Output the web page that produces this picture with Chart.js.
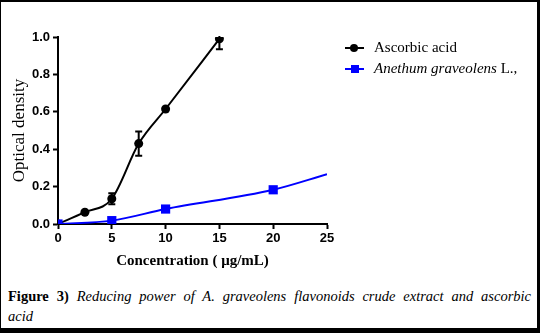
<!DOCTYPE html>
<html>
<head>
<meta charset="utf-8">
<script src="https://cdn.jsdelivr.net/npm/chart.js@4"></script>
<style>
  html, body { margin: 0; padding: 0; background: #000; }
  #page {
    position: absolute; left: 1px; top: 2px; width: 536px; height: 326px;
    background: #fff; overflow: hidden;
  }
  #wrap { position: absolute; left: -1px; top: -2px; width: 540px; height: 280px; }
  #legend { position: absolute; left: 344px; top: 35px; color: #000; }
  .row { position: relative; height: 21px; line-height: 21px; white-space: nowrap; }
  .mk { position: absolute; left: 0; top: 10px; width: 19px; height: 2px; }
  .dot { position: absolute; left: 5px; top: -3px; width: 8px; height: 8px; }
  .txt {
    position: absolute; left: 29px; top: 0;
    font-family: "Liberation Serif", "DejaVu Serif", serif; font-size: 15px;
  }
  #caption {
    position: absolute; left: 7px; top: 284px; width: 523px;
    font-family: "Liberation Serif", serif; font-size: 14.5px; line-height: 20px; color: #000;
  }
  #caption .l1 { text-align: justify; text-align-last: justify; }
  #caption i { font-style: italic; }
</style>
</head>
<body>
<div id="page">
  <div id="wrap"><canvas id="chart" width="540" height="280"></canvas></div>
  <div id="legend"></div>
  <div id="caption">
    <div class="l1"><b>Figure 3)</b> <i>Reducing power of A. graveolens flavonoids crude extract and ascorbic</i></div>
    <div><i>acid</i></div>
  </div>
</div>
<script>
// Data
var acidX = [0, 2.5, 5, 7.5, 10, 15];
var acidY = [0, 0.063, 0.135, 0.43, 0.615, 0.99];
var acidErr = [0, 0, 0.03, 0.065, 0, 0.055];

var anethumX = [0, 5, 10, 20, 25];
var anethumY = [0, 0.018, 0.08, 0.183, 0.266];

var xTicks = [0, 5, 10, 15, 20, 25];
var yTicks = [0, 0.2, 0.4, 0.6, 0.8, 1.0];

var seriesNames = ["Ascorbic acid", "<i>Anethum graveolens</i> L.,"];
var seriesColors = ["#000000", "#0000ff"];

function toPoints(xs, ys) {
  var pts = [];
  for (var i = 0; i < xs.length; i++) pts.push({x: xs[i], y: ys[i]});
  return pts;
}

// error bars for the ascorbic acid series, clipped to the plot area
var errorBars = {
  id: 'errorBars',
  afterDatasetsDraw: function(chart) {
    var ctx = chart.ctx;
    var xs = chart.scales.x, ys = chart.scales.y;
    var area = chart.chartArea;
    ctx.save();
    ctx.beginPath();
    ctx.rect(area.left, area.top - 1, area.right - area.left, area.bottom - area.top + 2);
    ctx.clip();
    ctx.strokeStyle = "#000";
    ctx.lineWidth = 2;
    for (var i = 0; i < acidX.length; i++) {
      if (!acidErr[i]) continue;
      var px = xs.getPixelForValue(acidX[i]);
      var top = ys.getPixelForValue(acidY[i] + acidErr[i]);
      var bot = ys.getPixelForValue(acidY[i] - acidErr[i]);
      ctx.beginPath();
      ctx.moveTo(px, top); ctx.lineTo(px, bot);
      ctx.moveTo(px - 3.5, top); ctx.lineTo(px + 3.5, top);
      ctx.moveTo(px - 3.5, bot); ctx.lineTo(px + 3.5, bot);
      ctx.stroke();
    }
    ctx.restore();
  }
};

var tickFont = { family: "'Liberation Sans Narrow', 'Liberation Sans', Arial", size: 13, weight: 'bold' };

var chart = new Chart(document.getElementById("chart"), {
  type: 'line',
  data: {
    datasets: [{
      label: "Ascorbic acid",
      data: toPoints(acidX, acidY),
      borderColor: seriesColors[0],
      backgroundColor: seriesColors[0],
      borderWidth: 2,
      pointStyle: 'circle',
      pointRadius: 4.5,
      pointBorderWidth: 0,
      cubicInterpolationMode: 'monotone',
      order: 2
    }, {
      label: "Anethum graveolens L.,",
      data: toPoints(anethumX, anethumY),
      borderColor: seriesColors[1],
      backgroundColor: seriesColors[1],
      borderWidth: 2,
      pointStyle: 'rect',
      pointRadius: [6.5, 6.5, 6.5, 6.5, 0],
      pointBorderWidth: 0,
      cubicInterpolationMode: 'monotone',
      order: 1
    }]
  },
  options: {
    animation: false,
    responsive: false,
    layout: { padding: { left: 0, right: 213, top: 37, bottom: 0 } },
    plugins: { legend: { display: false }, tooltip: { enabled: false } },
    scales: {
      x: {
        type: 'linear', min: 0, max: 25,
        afterBuildTicks: function(s) { s.ticks = xTicks.map(function(v) { return {value: v}; }); },
        afterFit: function(s) { s.height = 56; },
        grid: { drawOnChartArea: false, drawTicks: true, tickLength: 5, tickColor: '#000', tickWidth: 2 },
        border: { color: '#000', width: 2 },
        ticks: { color: '#000', font: tickFont, padding: 2, maxRotation: 0 },
        title: { display: true, text: "Concentration ( μg/mL)", color: '#000',
          font: { family: "'Liberation Serif', serif", size: 15, weight: 'bold' }, padding: { top: 0, bottom: 10 } }
      },
      y: {
        type: 'linear', min: 0, max: 1,
        afterBuildTicks: function(s) { s.ticks = yTicks.map(function(v) { return {value: v}; }); },
        afterFit: function(s) { s.width = 58; },
        grid: { drawOnChartArea: false, drawTicks: true, tickLength: 5, tickColor: '#000', tickWidth: 2 },
        border: { color: '#000', width: 2 },
        ticks: { color: '#000', font: tickFont, padding: 3, callback: function(v) { return v.toFixed(1); } },
        title: { display: true, text: "Optical density", color: '#000',
          font: { family: "'Liberation Serif', serif", size: 17, weight: 'normal' }, padding: { top: 9, bottom: 0 } }
      }
    }
  },
  plugins: [errorBars]
});

// legend built from the series names
var lg = document.getElementById("legend");
for (var i = 0; i < seriesNames.length; i++) {
  var dotStyle = i === 0 ? "border-radius:50%;" : "left:6px;top:-3px;width:8px;height:8px;";
  lg.innerHTML += '<div class="row"><div class="mk" style="background:' + seriesColors[i] + '">' +
    '<div class="dot" style="background:' + seriesColors[i] + ';' + dotStyle + '"></div></div>' +
    '<span class="txt">' + seriesNames[i] + '</span></div>';
}
</script>
</body>
</html>
